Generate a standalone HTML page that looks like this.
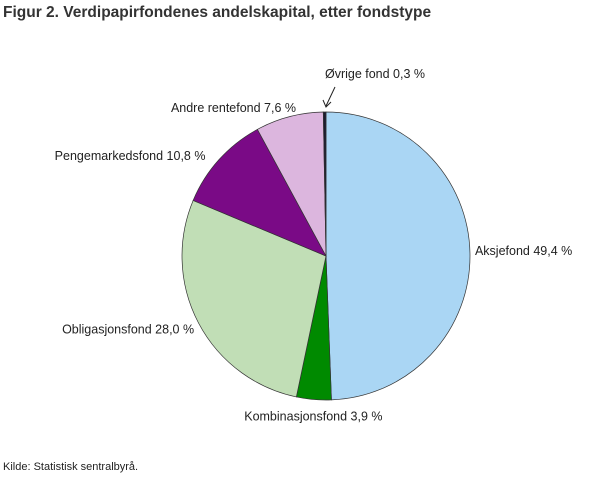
<!DOCTYPE html>
<html><head><meta charset="utf-8"><style>
body{margin:0;width:610px;height:488px;background:#fff;font-family:"Liberation Sans",sans-serif;overflow:hidden}
svg text{font-family:"Liberation Sans",sans-serif;fill:#222}
</style></head><body>
<svg width="610" height="488">
<text x="3" y="17" font-size="15.5" font-weight="bold" style="fill:#333">Figur 2. Verdipapirfondenes andelskapital, etter fondstype</text>
<g id="slices"></g>
<g id="labels"></g>
<line x1="335" y1="87" x2="326" y2="106" stroke="#222" stroke-width="1"/>
<path d="M323,100 L326,107 L331,102" fill="none" stroke="#222" stroke-width="1"/>
<text x="3" y="470" font-size="11">Kilde: Statistisk sentralbyrå.</text>
</svg>
<script>
const categories=["Aksjefond","Kombinasjonsfond","Obligasjonsfond","Pengemarkedsfond","Andre rentefond","Øvrige fond"];
const values=[49.4,3.9,28.0,10.8,7.6,0.3];
const labelTexts=["Aksjefond 49,4 %","Kombinasjonsfond 3,9 %","Obligasjonsfond  28,0 %","Pengemarkedsfond 10,8 %","Andre rentefond 7,6 %","Øvrige fond 0,3 %"];
const colors=["#aad6f4","#008a00","#c1deb6","#7a0a86","#dcb6de","#1b1b2f"];
const labelDx=[0,0,0,-10,8,0];
const labelDy=[-2,0,4,0,-4,0];
const cx=326,cy=256,r=144;
const ns="http://www.w3.org/2000/svg";
const total=values.reduce((a,b)=>a+b,0);
const sg=document.getElementById('slices'),lg=document.getElementById('labels');
let a0=0;
function pt(a,rr){return [cx+rr*Math.sin(a),cy-rr*Math.cos(a)];}
values.forEach((v,i)=>{
  const a1=a0+v/total*2*Math.PI;
  const p0=pt(a0,r),p1=pt(a1,r);
  const p=document.createElementNS(ns,'path');
  p.setAttribute('d',`M${cx},${cy} L${p0[0]},${p0[1]} A${r},${r} 0 ${a1-a0>Math.PI?1:0} 1 ${p1[0]},${p1[1]} Z`);
  p.setAttribute('fill',colors[i]);p.setAttribute('stroke','#333');p.setAttribute('stroke-width','0.7');
  
  
  sg.appendChild(p);
  const am=(a0+a1)/2;
  let lp=pt(am,r+5);
  const t=document.createElementNS(ns,'text');
  t.setAttribute('font-size','12.5');
  let x=lp[0]+labelDx[i],y=lp[1]+4+labelDy[i],anchor=Math.sin(am)>=0?'start':'end';
  if(i===5){x=375;y=78;anchor='middle';}
  if(i===1){anchor='middle';y=lp[1]+16;}
  t.setAttribute('x',x);t.setAttribute('y',y);t.setAttribute('text-anchor',anchor);
  t.textContent=labelTexts[i];
  
  
  lg.appendChild(t);
  a0=a1;
});
</script>
</body></html>
